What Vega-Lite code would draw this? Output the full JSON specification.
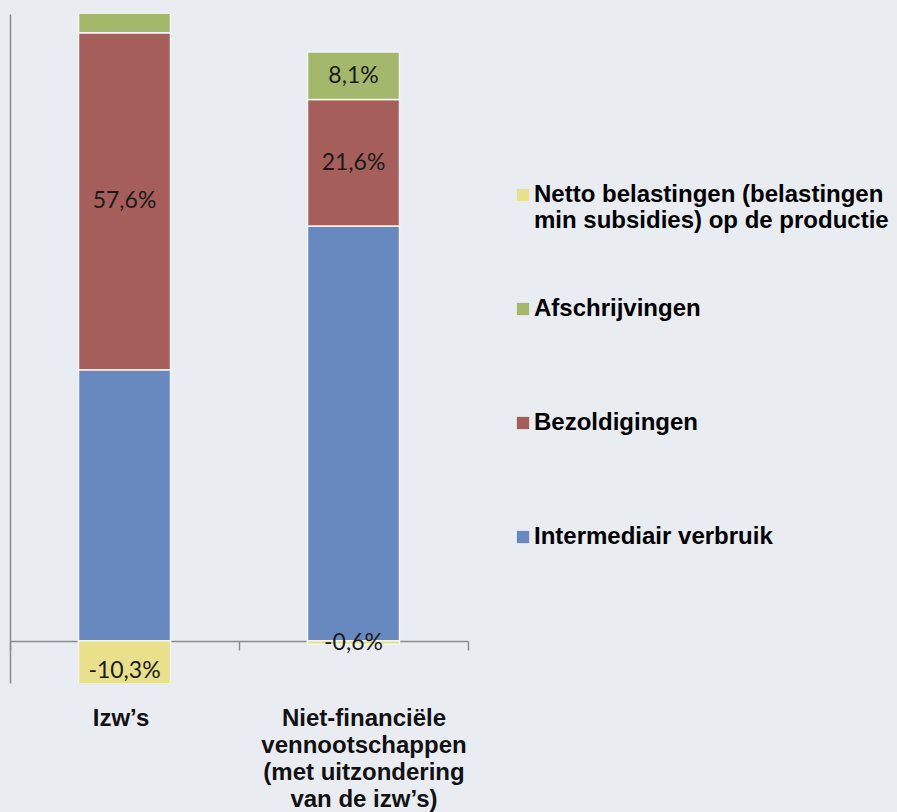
{
  "$schema": "https://vega.github.io/schema/vega-lite/v6.json",
  "width": 458,
  "height": 669,
  "autosize": {"type": "none"},
  "padding": {"left": 10, "top": 14, "right": 429, "bottom": 129},
  "background": "#e9ecf1",
  "config": {"view": {"stroke": null}},
  "data": {
    "values": [
      {"sector": "Izw’s", "component": "Intermediair verbruik", "value": 46.3, "order": 1, "label": ""},
      {"sector": "Izw’s", "component": "Bezoldigingen", "value": 57.6, "order": 2, "label": "57,6%"},
      {"sector": "Izw’s", "component": "Afschrijvingen", "value": 6.4, "order": 3, "label": ""},
      {"sector": "Izw’s", "component": "Netto belastingen (belastingen min subsidies) op de productie", "value": -10.3, "order": 4, "label": "-10,3%"},
      {"sector": "Niet-financiële vennootschappen (met uitzondering van de izw’s)", "component": "Intermediair verbruik", "value": 70.9, "order": 1, "label": ""},
      {"sector": "Niet-financiële vennootschappen (met uitzondering van de izw’s)", "component": "Bezoldigingen", "value": 21.6, "order": 2, "label": "21,6%"},
      {"sector": "Niet-financiële vennootschappen (met uitzondering van de izw’s)", "component": "Afschrijvingen", "value": 8.1, "order": 3, "label": "8,1%"},
      {"sector": "Niet-financiële vennootschappen (met uitzondering van de izw’s)", "component": "Netto belastingen (belastingen min subsidies) op de productie", "value": -0.6, "order": 4, "label": "-0,6%"}
    ]
  },
  "transform": [
    {"stack": "value", "groupby": ["sector"], "sort": [{"field": "order"}], "as": ["v0", "v1"]},
    {"calculate": "(datum.v0 + datum.v1) / 2", "as": "mid"}
  ],
  "encoding": {
    "x": {
      "field": "sector",
      "type": "nominal",
      "sort": null,
      "scale": {"paddingInner": 0, "paddingOuter": 0},
      "axis": {
        "title": null,
        "orient": "bottom",
        "offset": -42,
        "domainColor": "#8c8c8c",
        "domainWidth": 1.5,
        "tickColor": "#8c8c8c",
        "tickWidth": 1.5,
        "tickSize": 9,
        "tickBand": "extent",
        "labelAngle": 0,
        "labelFont": "Liberation Sans",
        "labelFontWeight": "bold",
        "labelFontSize": 24,
        "labelColor": "#111111",
        "labelPadding": 56,
        "labelLineHeight": 27,
        "labelBaseline": "top",
        "labelLimit": 0,
        "labelOffset": {"condition": {"test": "datum.value == 'Izw’s'", "value": -4}, "value": 10},
        "labelExpr": "datum.value == 'Izw’s' ? 'Izw’s' : datum.value == 'Niet-financiële vennootschappen (met uitzondering van de izw’s)' ? ['Niet-financiële', 'vennootschappen', '(met uitzondering', 'van de izw’s)'] : ''"
      }
    }
  },
  "layer": [
    {
      "mark": {"type": "bar", "width": 92, "stroke": "#f4f5f7", "strokeWidth": 1.5, "clip": true},
      "encoding": {
        "y": {
          "field": "v0",
          "type": "quantitative",
          "scale": {"domain": [-7.2, 107.1], "nice": false, "zero": false},
          "axis": {"title": null, "labels": false, "ticks": false, "grid": false, "domainColor": "#8c8c8c", "domainWidth": 1.5}
        },
        "y2": {"field": "v1"},
        "color": {
          "field": "component",
          "type": "nominal",
          "scale": {
            "domain": ["Netto belastingen (belastingen min subsidies) op de productie", "Afschrijvingen", "Bezoldigingen", "Intermediair verbruik"],
            "range": ["#e8e08a", "#a4b86b", "#a65e5a", "#6889bf"]
          },
          "legend": {
            "title": null,
            "orient": "none",
            "legendX": 501,
            "legendY": 169,
            "symbolType": "square",
            "symbolSize": 150,
            "symbolStrokeWidth": 0,
            "labelFont": "Liberation Sans",
            "labelFontWeight": "bold",
            "labelFontSize": 24,
            "labelColor": "#000000",
            "labelLimit": 500,
            "labelOffset": -1,
            "labelBaseline": "middle",
            "labelLineHeight": 25,
            "rowPadding": 64,
            "labelExpr": "datum.label == 'Netto belastingen (belastingen min subsidies) op de productie' ? ['Netto belastingen (belastingen', 'min subsidies) op de productie'] : [datum.label, ' ']"
          }
        }
      }
    },
    {
      "mark": {"type": "text", "font": "Lato", "fontSize": 23, "color": "#1a1a1a", "clip": true},
      "encoding": {
        "y": {"field": "mid", "type": "quantitative"},
        "text": {"field": "label"}
      }
    }
  ]
}
